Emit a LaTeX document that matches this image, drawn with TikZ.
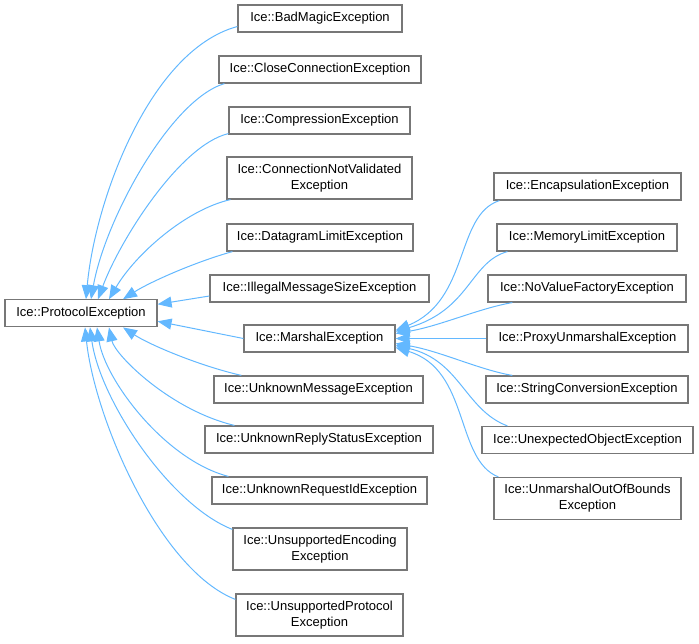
\documentclass[tikz,border=0pt]{standalone}
\usepackage{fontspec}
\setmainfont{Liberation Sans}
\usetikzlibrary{arrows.meta}
\definecolor{edgeblue}{HTML}{63B8FF}
\definecolor{boxgray}{HTML}{777777}
\begin{document}
\begin{tikzpicture}[x=1pt,y=-1pt,
  cls/.style={draw=boxgray,line width=1.2pt,fill=white,rectangle,inner sep=0pt,
    minimum height=27pt,align=center,font=\fontsize{13}{16}\selectfont},
  cls2/.style={cls,minimum height=42pt},
  inh/.style={draw=edgeblue,line width=1pt,
    {Triangle[length=14pt,width=11pt,fill=edgeblue]}-}]
\useasboundingbox (0,0) rectangle (699,643);
% left
\node[cls,minimum width=152pt] (proto) at (81,313.3) {Ice::ProtocolException};
% middle column
\node[cls,minimum width=164pt] (badmagic) at (320,18.5) {Ice::BadMagicException};
\node[cls,minimum width=202pt] (close) at (320,69.5) {Ice::CloseConnectionException};
\node[cls,minimum width=181pt] (compr) at (319.5,120.5) {Ice::CompressionException};
\node[cls2,minimum width=185pt] (conn) at (319.5,178) {Ice::ConnectionNotValidated\\Exception};
\node[cls,minimum width=186pt] (datagram) at (320,237.5) {Ice::DatagramLimitException};
\node[cls,minimum width=219pt] (illegal) at (319.5,288.5) {Ice::IllegalMessageSizeException};
\node[cls,minimum width=151pt] (marshal) at (319.5,338.5) {Ice::MarshalException};
\node[cls,minimum width=209pt] (unkmsg) at (318.5,389.5) {Ice::UnknownMessageException};
\node[cls,minimum width=228pt] (unkreply) at (319,439.5) {Ice::UnknownReplyStatusException};
\node[cls,minimum width=215pt] (unkreq) at (319.5,490.5) {Ice::UnknownRequestIdException};
\node[cls2,minimum width=174pt] (unsenc) at (320,549) {Ice::UnsupportedEncoding\\Exception};
\node[cls2,minimum width=167pt] (unsprot) at (319.5,615) {Ice::UnsupportedProtocol\\Exception};
% right column
\node[cls,minimum width=187pt] (encap) at (587.5,186.5) {Ice::EncapsulationException};
\node[cls,minimum width=180pt] (memlimit) at (587,237.5) {Ice::MemoryLimitException};
\node[cls,minimum width=198pt] (novalue) at (587,288.5) {Ice::NoValueFactoryException};
\node[cls,minimum width=201pt] (proxy) at (587.5,338.5) {Ice::ProxyUnmarshalException};
\node[cls,minimum width=202pt] (strconv) at (587,389.5) {Ice::StringConversionException};
\node[cls,minimum width=211pt] (unexp) at (587.5,440) {Ice::UnexpectedObjectException};
\node[cls2,minimum width=187pt] (unmarsh) at (587.5,498.5) {Ice::UnmarshalOutOfBounds\\Exception};
% edges to ProtocolException (top)
\draw[inh] ([xshift=5pt]proto.north) .. controls (95,200) and (150,50) .. ([yshift=-8pt]badmagic.west);
\draw[inh] ([xshift=10pt]proto.north) .. controls (105,220) and (170,100) .. ([xshift=6pt]close.south west);
\draw[inh] ([xshift=17pt]proto.north) .. controls (120,240) and (180,145) .. ([yshift=1pt]compr.south west);
\draw[inh] ([xshift=28pt]proto.north) .. controls (135,255) and (185,210) .. ([xshift=4pt]conn.south west);
\draw[inh] ([xshift=42pt]proto.north) .. controls (150,282) and (195,262) .. ([xshift=6pt]datagram.south west);
% right side
\draw[inh] ([yshift=9pt]proto.east) -- ([yshift=-7.5pt]illegal.west);
\draw[inh] ([yshift=-8pt]proto.east) -- (marshal.west);
% bottom
\draw[inh] ([xshift=42pt]proto.south) .. controls (150,345) and (200,366) .. ([xshift=28pt]unkmsg.north west);
\draw[inh] ([xshift=28pt]proto.south) .. controls (115,355) and (170,410) .. ([xshift=30pt]unkreply.north west);
\draw[inh] ([xshift=16pt]proto.south) .. controls (105,380) and (165,460) .. ([xshift=17pt]unkreq.north west);
\draw[inh] ([xshift=9pt]proto.south) .. controls (100,400) and (170,505) .. ([yshift=-2pt]unsenc.north west);
\draw[inh] ([xshift=4pt]proto.south) .. controls (95,420) and (160,570) .. ([yshift=-6pt]unsprot.north west);
% edges to MarshalException
\draw[inh] ([yshift=8pt]marshal.east) .. controls (470,300) and (455,215) .. ([xshift=6pt]encap.south west);
\draw[inh] ([yshift=7pt]marshal.east) .. controls (470,310) and (470,262) .. ([xshift=11pt]memlimit.south west);
\draw[inh] ([yshift=5pt]marshal.east) .. controls (440,326) and (480,308) .. ([xshift=25pt]novalue.south west);
\draw[inh] (marshal.east) -- (proxy.west);
\draw[inh] ([yshift=-5pt]marshal.east) .. controls (440,351) and (480,370) .. ([xshift=27pt]strconv.north west);
\draw[inh] ([yshift=-7pt]marshal.east) .. controls (460,360) and (465,410) .. ([xshift=26pt]unexp.north west);
\draw[inh] ([yshift=-9pt]marshal.east) .. controls (470,370) and (455,460) .. ([xshift=5pt]unmarsh.north west);
\end{tikzpicture}
\end{document}
